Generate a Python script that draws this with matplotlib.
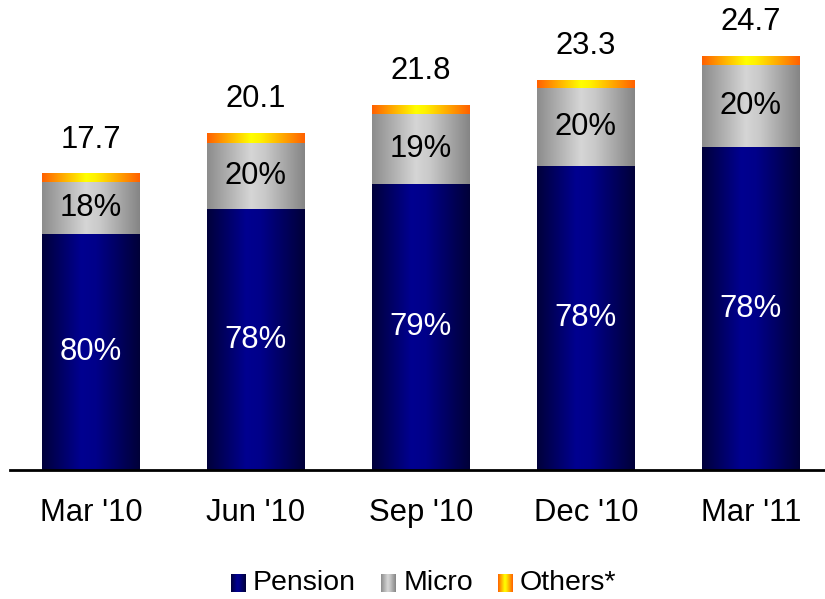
import numpy as np
import matplotlib
matplotlib.use("Agg")
import matplotlib.pyplot as plt
from matplotlib.colors import LinearSegmentedColormap

plt.rcParams['font.family'] = ['Liberation Sans', 'DejaVu Sans']

categories = ["Mar '10", "Jun '10", "Sep '10", "Dec '10", "Mar '11"]
totals = [17.7, 20.1, 21.8, 23.3, 24.7]
pension = [14.1, 15.6, 17.1, 18.2, 19.3]
micro = [3.1, 3.95, 4.2, 4.65, 4.9]
others = [0.5, 0.55, 0.5, 0.45, 0.5]
pension_pct = ["80%", "78%", "79%", "78%", "78%"]
micro_pct = ["18%", "20%", "19%", "20%", "20%"]
legend_labels = ["Pension", "Micro", "Others*"]

cm_pension = LinearSegmentedColormap.from_list(
    "p", [(0, "#00003a"), (0.4, "#000090"), (0.55, "#00008a"), (1, "#000038")])
cm_micro = LinearSegmentedColormap.from_list(
    "m", [(0, "#8c8c8c"), (0.45, "#d6d6d6"), (0.6, "#c8c8c8"), (1, "#858585")])
cm_others = LinearSegmentedColormap.from_list(
    "o", [(0, "#ff6000"), (0.45, "#ffff00"), (0.55, "#fff000"), (1, "#ff6000")])

fig = plt.figure(figsize=(8.25, 5.99), dpi=100)
W, H = 825, 599
ax = fig.add_axes([10 / W, (H - 470) / H, 815 / W, 470 / H])

x = np.arange(len(categories))
width = 0.594
grad = np.linspace(0, 1, 256).reshape(1, -1)

b1 = ax.bar(x, pension, width, color="none")
b2 = ax.bar(x, micro, width, bottom=pension, color="none")
bottom2 = np.array(pension) + np.array(micro)
b3 = ax.bar(x, others, width, bottom=bottom2, color="none")

for bars, cmap in [(b1, cm_pension), (b2, cm_micro), (b3, cm_others)]:
    for p in bars:
        x0, y0 = p.get_x(), p.get_y()
        ax.imshow(grad, cmap=cmap, aspect="auto",
                  extent=(x0, x0 + p.get_width(), y0, y0 + p.get_height()),
                  zorder=2, interpolation="bilinear")

FS = 22.3
for i in range(len(categories)):
    ax.text(x[i], pension[i] / 2, pension_pct[i], ha="center", va="center",
            color="white", fontsize=FS, zorder=5)
    ax.text(x[i], pension[i] + micro[i] / 2, micro_pct[i], ha="center", va="center",
            color="black", fontsize=FS, zorder=5)
    ax.annotate(f"{totals[i]:.1f}", (x[i], totals[i]), xytext=(0, 19),
                textcoords="offset points", ha="center", va="baseline",
                fontsize=FS, color="black")

ax.set_xlim(-0.49, 4.45)
ax.set_ylim(0, 28.1)
ax.set_xticks(x)
ax.set_xticklabels(categories, fontsize=FS)
ax.tick_params(axis="x", length=0, pad=20)
ax.set_yticks([])
for s in ["top", "right", "left"]:
    ax.spines[s].set_visible(False)
ax.spines["bottom"].set_linewidth(2)
ax.patch.set_alpha(0)

# custom legend with gradient squares
leg_sq_x = [231, 381, 498]
leg_txt_x = [253, 404, 520]
for cmap, sx, tx, lab in zip([cm_pension, cm_micro, cm_others], leg_sq_x, leg_txt_x, legend_labels):
    lax = fig.add_axes([sx / W, (H - 592) / H, 15 / W, 18 / H])
    lax.imshow(grad, cmap=cmap, aspect="auto", interpolation="bilinear")
    lax.axis("off")
    fig.text(tx / W, (H - 583) / H, lab, ha="left", va="center", fontsize=20.5)

fig.savefig("out.png", dpi=100)
